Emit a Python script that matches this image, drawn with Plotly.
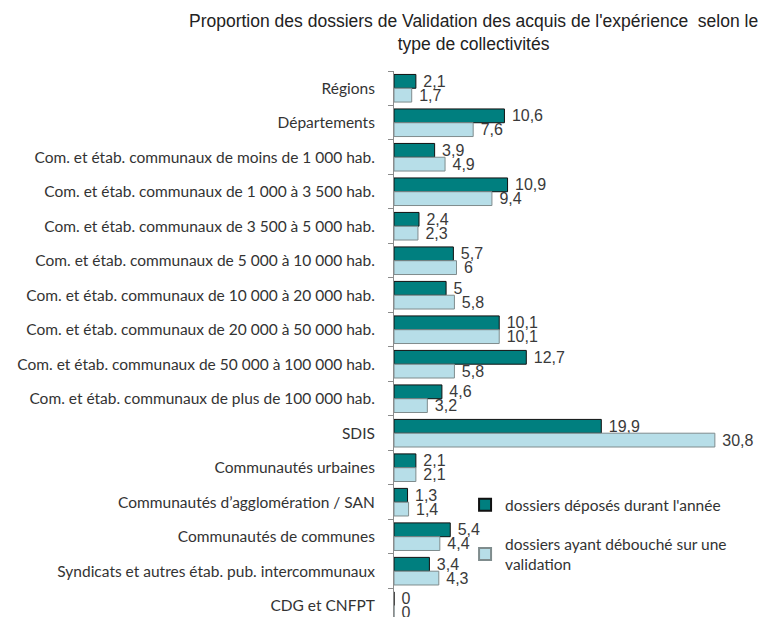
import plotly.graph_objects as go

categories = [
    "Régions",
    "Départements",
    "Com. et étab. communaux de moins de 1 000 hab.",
    "Com. et étab. communaux de 1 000 à 3 500 hab.",
    "Com. et étab. communaux de 3 500 à 5 000 hab.",
    "Com. et étab. communaux de 5 000 à 10 000 hab.",
    "Com. et étab. communaux de 10 000 à 20 000 hab.",
    "Com. et étab. communaux de 20 000 à 50 000 hab.",
    "Com. et étab. communaux de 50 000 à 100 000 hab.",
    "Com. et étab. communaux de plus de 100 000 hab.",
    "SDIS",
    "Communautés urbaines",
    "Communautés d’agglomération / SAN",
    "Communautés de communes",
    "Syndicats et autres étab. pub. intercommunaux",
    "CDG et CNFPT",
]
deposes = [2.1, 10.6, 3.9, 10.9, 2.4, 5.7, 5, 10.1, 12.7, 4.6, 19.9, 2.1, 1.3, 5.4, 3.4, 0]
valides = [1.7, 7.6, 4.9, 9.4, 2.3, 6, 5.8, 10.1, 5.8, 3.2, 30.8, 2.1, 1.4, 4.4, 4.3, 0]
series_names = ["dossiers déposés durant l'année",
                "dossiers ayant débouché sur une<br>validation"]
title_text = ("Proportion des dossiers de Validation des acquis de l'expérience  selon le"
              "<br>type de collectivités")


def fmt(v):
    return " " + ("%g" % v).replace(".", ",")


label_font = dict(family="Liberation Sans, Arial", size=16, color="#3a3a3a")

fig = go.Figure()
fig.add_trace(go.Bar(
    y=categories, x=deposes, orientation="h", name=series_names[0],
    legendgroup="a",
    marker=dict(color="#007F7F", line=dict(color="#111111", width=1)),
    text=[fmt(v) for v in deposes], textposition="outside",
    textfont=label_font, constraintext="none", cliponaxis=False,
))
fig.add_trace(go.Bar(
    y=categories, x=valides, orientation="h", name=series_names[1],
    legendgroup="b",
    marker=dict(color="#B7DEE8", line=dict(color="#7f8c8d", width=1)),
    text=[fmt(v) for v in valides], textposition="outside",
    textfont=label_font, constraintext="none", cliponaxis=False,
))

fig.update_layout(
    width=776, height=617,
    margin=dict(l=386, r=16, t=63, b=0),
    paper_bgcolor="white", plot_bgcolor="white",
    barmode="group", bargap=0.2, bargroupgap=0,
    title=dict(text=title_text, x=0.6, xanchor="center", y=1 - 19 / 617,
               yanchor="middle",
               font=dict(family="Liberation Sans, Arial", size=17.5, color="#222222")),
    showlegend=True,
    legend=dict(x=0.19, y=0.247, xanchor="left", yanchor="top",
                bgcolor="rgba(0,0,0,0)", tracegroupgap=16,
                font=dict(family="Lato", size=15.5, color="#333333"),
                itemsizing="constant"),
    uniformtext=dict(mode=False),
)
fig.update_xaxes(range=[0, 35.9], visible=False, showgrid=False, zeroline=False)
fig.update_yaxes(
    type="category", range=[15.56, -0.5],
    showline=True, linecolor="#8c8c8c", linewidth=1,
    ticks="outside", ticklen=5, tickcolor="#8c8c8c", tickson="boundaries",
    ticklabelstandoff=15,
    tickfont=dict(family="Lato", size=15.5, color="#333333"),
    showgrid=False, zeroline=False,
)

fig.write_html("out.html")
